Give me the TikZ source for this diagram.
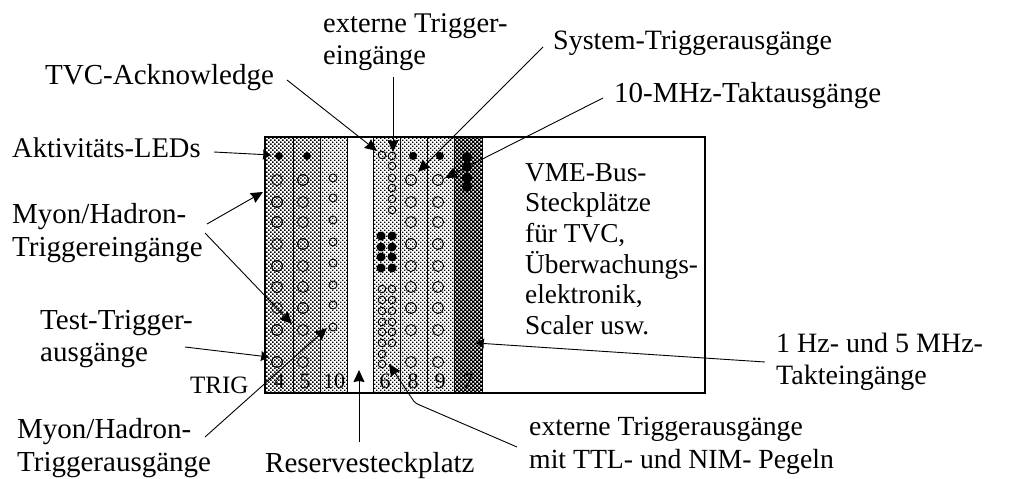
\documentclass[tikz,border=0pt]{standalone}
\usepackage{fontspec}
\setmainfont{Liberation Serif}
\usetikzlibrary{arrows.meta,patterns}
\pgfdeclarepatternformonly{halfdark}{\pgfqpoint{-1pt}{-1pt}}{\pgfqpoint{5pt}{5pt}}{\pgfqpoint{4pt}{4pt}}{
  \pgfpathrectangle{\pgfqpoint{0pt}{0pt}}{\pgfqpoint{1.7pt}{1.7pt}}
  \pgfpathrectangle{\pgfqpoint{2pt}{2pt}}{\pgfqpoint{1.7pt}{1.7pt}}
  \pgfusepath{fill}}
\pgfdeclarepatternformonly{halflight}{\pgfqpoint{-1pt}{-1pt}}{\pgfqpoint{5pt}{5pt}}{\pgfqpoint{4pt}{4pt}}{
  \pgfpathrectangle{\pgfqpoint{0pt}{0pt}}{\pgfqpoint{1.35pt}{1.35pt}}
  \pgfpathrectangle{\pgfqpoint{2pt}{2pt}}{\pgfqpoint{1.35pt}{1.35pt}}
  \pgfusepath{fill}}
\pgfdeclarepatternformonly{halfblack}{\pgfqpoint{-1pt}{-1pt}}{\pgfqpoint{5pt}{5pt}}{\pgfqpoint{4pt}{4pt}}{
  \pgfpathrectangle{\pgfqpoint{0pt}{0pt}}{\pgfqpoint{2.3pt}{2.3pt}}
  \pgfpathrectangle{\pgfqpoint{2pt}{2pt}}{\pgfqpoint{2.3pt}{2.3pt}}
  \pgfusepath{fill}}
\tikzset{
  x=1pt,y=-1pt,
  lbl/.style={inner sep=0pt,anchor=west,align=left,font=\fontsize{28}{32.5}\selectfont,text=black},
  lblw/.style={lbl,font=\fontsize{29}{32.5}\selectfont},
  num/.style={inner sep=0pt,font=\fontsize{22}{24}\selectfont,text=black},
  conn/.style={line width=0.9pt,draw=black},
  arr/.style={conn,-{Stealth[length=12pt,width=11pt,inset=1pt]}},
  arrshort/.style={conn,-{Stealth[length=8pt,width=10pt,inset=0.5pt]}},
  stripdark/.style={pattern=halfdark,draw=black,line width=1pt},
  striplight/.style={pattern=halflight,draw=black,line width=1pt},
  stripblack/.style={pattern=halfblack,draw=black,line width=1pt},
  hole/.style={draw=black,line width=0.9pt},
  led/.style={fill=black,draw=none},
}
\begin{document}
\begin{tikzpicture}
\useasboundingbox (0,0) rectangle (1009,479);
\fill[white] (0,0) rectangle (1009,479);
% rack strips
\path[stripdark] (265,137) rectangle (293,393);
\path[stripdark] (293,137) rectangle (320,393);
\path[striplight] (320,137) rectangle (347,393);
\path[striplight] (373,137) rectangle (400,393);
\path[striplight] (400,137) rectangle (427,393);
\path[striplight] (427,137) rectangle (454,393);
\path[stripblack] (454,137) rectangle (482,393);
\draw[line width=1.2pt] (265,137) rectangle (705,393);
% large connectors, strips 4, 5, 8, 9
\foreach \yy in {180,202,222,244,266,287,308,330,362}{
  \draw[hole] (277,\yy) circle (5.5);
  \draw[hole] (303,\yy) circle (5.5);
  \draw[hole] (411,\yy) circle (5.5);
  \draw[hole] (438,\yy) circle (5.5);
}
% strip 10
\foreach \yy in {178,198,220,242,263,285,305,327}{
  \draw[hole] (333,\yy) circle (4);
}
% strip 6 small connectors
\foreach \yy in {156,166,178,188,199,210,289,300,311,322,332,343}{
  \draw[hole] (392,\yy) circle (3.8);
}
\foreach \yy in {155,289,300,311,322,332,343,354,364}{
  \draw[hole] (382,\yy) circle (3.8);
}
% LEDs
\foreach \xx in {279,307,413,440}{ \fill[led] (\xx,156) circle (4); }
\foreach \yy in {157,167,178,187}{ \fill[led] (467,\yy) circle (5); }
\foreach \yy in {236,247,257,268}{
  \fill[led] (381,\yy) circle (4.5);
  \fill[led] (392,\yy) circle (4.5);
}
% slot numbers
\node[num] (n4) at (279,381) {4};
\node[num] (n5) at (305,381) {5};
\node[num] (n10) at (334,381) {10};
\node[num] (n6) at (385,381) {6};
\node[num] (n8) at (413,381) {8};
\node[num] (n9) at (440,381) {9};
\node[num] (n7) at (468,381) {7};
% labels
\node[lbl,font=\fontsize{28.5}{32.5}\selectfont] (ext) at (323,42) {externe Trigger-\\eingänge};
\node[lbl] (sys) at (553,43) {System-Triggerausgänge};
\node[lblw] (mhz) at (614,96) {10-MHz-Taktausgänge};
\node[lblw] (tvc) at (45,78) {TVC-Acknowledge};
\node[lbl,font=\fontsize{28.5}{32.5}\selectfont] (akt) at (12,148) {Aktivitäts-LEDs};
\node[lblw] (myoe) at (12,233) {Myon/Hadron-\\Triggereingänge};
\node[lblw] (test) at (40,339) {Test-Trigger-\\ausgänge};
\node[lbl,font=\fontsize{25}{28}\selectfont] (trig) at (190,385) {TRIG};
\node[lblw] (myoa) at (17,448) {Myon/Hadron-\\Triggerausgänge};
\node[lblw] (res) at (265,466) {Reservesteckplatz};
\node[lbl,font=\fontsize{27.7}{32.5}\selectfont] (exa) at (529,446) {externe Triggerausgänge\\mit TTL- und NIM- Pegeln};
\node[lbl] (hz) at (776,362) {1 Hz- und 5 MHz-\\Takteingänge};
\node[lbl,font=\fontsize{27.3}{30.6}\selectfont] (vme) at (525,249) {VME-Bus-\\Steckplätze\\für TVC,\\Überwachungs-\\elektronik,\\Scaler usw.};
% connector ends
\coordinate (extA) at (393,77);   \coordinate (extB) at (393,152);
\coordinate (sysA) at (543,47);   \coordinate (sysB) at (418,172);
\coordinate (mhzA) at (603,98);   \coordinate (mhzB) at (445,178);
\coordinate (tvcA) at (287,80);   \coordinate (tvcB) at (377,151);
\coordinate (aktA) at (214,152);  \coordinate (aktB) at (271,155);
\coordinate (myeA) at (207,224);  \coordinate (myeB) at (263,192);
\coordinate (mybA) at (205,233);  \coordinate (mybB) at (292,324);
\coordinate (myaA) at (205,437);  \coordinate (myaB) at (327,328);
\coordinate (tstA) at (185,347);  \coordinate (tstB) at (269,357);
\coordinate (resA) at (359,442);  \coordinate (resB) at (359,370);
\coordinate (exaA) at (517,447);  \coordinate (exaK) at (415,403);  \coordinate (exaB) at (389,364);
\coordinate (hzA) at (765,362);   \coordinate (hzB) at (476,343);
% connectors
\draw[arr] (extA) -- (extB);
\draw[arr] (sysA) -- (sysB);
\draw[arr] (mhzA) -- (mhzB);
\draw[arr] (tvcA) -- (tvcB);
\draw[arrshort] (aktA) -- (aktB);
\draw[arr] (myeA) -- (myeB);
\draw[arr] (mybA) -- (mybB);
\draw[arr] (myaA) -- (myaB);
\draw[arrshort] (tstA) -- (tstB);
\draw[arr] (resA) -- (resB);
\draw[arr,rounded corners=3pt] (exaA) -- (exaK) -- (exaB);
\draw[arrshort] (hzA) -- (hzB);
\end{tikzpicture}
\end{document}
